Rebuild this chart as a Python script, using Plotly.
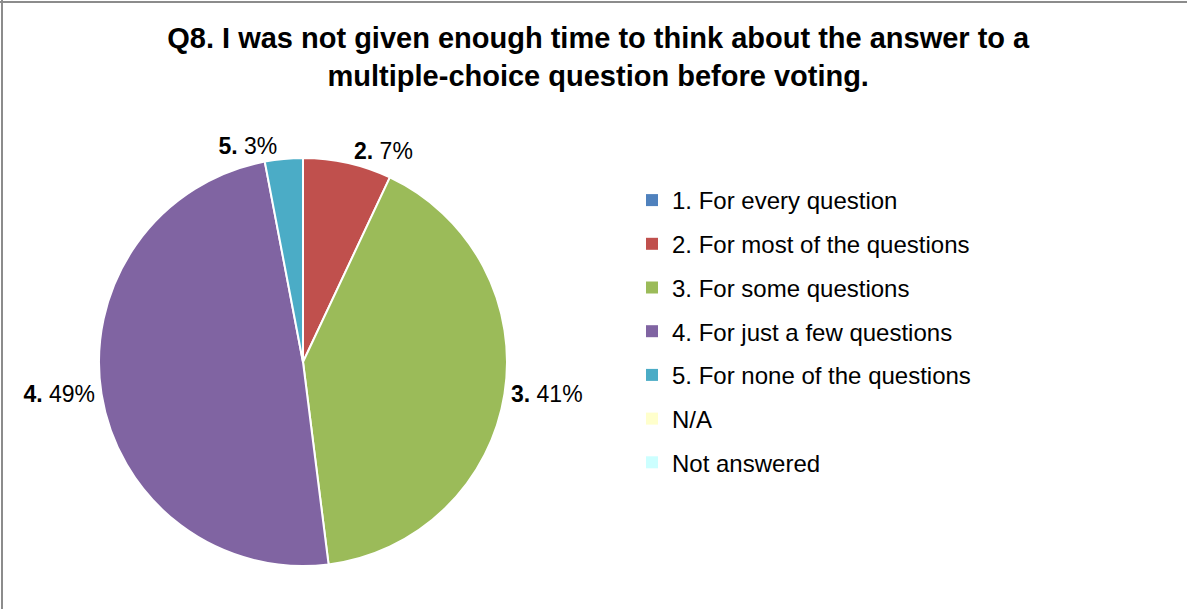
import plotly.graph_objects as go

# ---- data ----
categories = [
    "1. For every question",
    "2. For most of the questions",
    "3. For some questions",
    "4. For just a few questions",
    "5. For none of the questions",
    "N/A",
    "Not answered",
]
short_labels = ["1", "2", "3", "4", "5", "N/A", "NA"]
values = [0, 7, 41, 49, 3, 0, 0]
colors = ["#4F81BD", "#C0504D", "#9BBB59", "#8064A2", "#4BACC6", "#FFFFCC", "#CCFFFF"]

W, H = 1187, 609
FONT = "Liberation Sans, Arial, Helvetica, sans-serif"

texttemplates = [
    ("<b>%{customdata}.</b> %{percent}" if v > 0 else "") for v in values
]

fig = go.Figure()

fig.add_trace(go.Pie(
    labels=categories,
    values=values,
    customdata=short_labels,
    texttemplate=texttemplates,
    textposition="outside",
    textfont=dict(family=FONT, size=23, color="black"),
    marker=dict(colors=colors, line=dict(color="white", width=2)),
    sort=False,
    direction="clockwise",
    rotation=0,
    showlegend=False,
    hoverinfo="label+percent",
    domain=dict(x=[(303 - 204) / W, (303 + 204) / W], y=[1 - 566 / H, 1 - 158 / H]),
))

# legend entries (one per category, so groups can be spaced like the original)
for name, col in zip(categories, colors):
    fig.add_trace(go.Scatter(
        x=[None], y=[None], mode="markers", name=name,
        marker=dict(symbol="square", size=12, color=col),
        legendgroup=name, showlegend=True, hoverinfo="skip",
    ))

fig.update_layout(
    width=W, height=H,
    margin=dict(l=0, r=0, t=0, b=0),
    paper_bgcolor="white",
    plot_bgcolor="white",
    font=dict(family=FONT, color="black"),
    title=dict(
        text="<b>Q8. I was not given enough time to think about the answer to a<br>multiple-choice question before voting.</b>",
        x=0.504, xanchor="center",
        y=1 - 48 / H, yanchor="top", yref="container",
        font=dict(family=FONT, size=29, color="black"),
    ),
    xaxis=dict(visible=False),
    yaxis=dict(visible=False),
    legend=dict(
        x=632 / W, xanchor="left",
        y=1 - 178 / H, yanchor="top",
        font=dict(family=FONT, size=24, color="black"),
        tracegroupgap=9.5,
        bgcolor="rgba(0,0,0,0)",
    ),
    shapes=[
        dict(type="line", xref="paper", yref="paper", x0=2 / W, x1=2 / W, y0=0, y1=1,
             line=dict(color="#8C8C8C", width=2)),
        dict(type="line", xref="paper", yref="paper", x0=0, x1=1, y0=1 - 2 / H, y1=1 - 2 / H,
             line=dict(color="#8C8C8C", width=2)),
    ],
)

fig.write_html(
    "out.html",
    config={"displayModeBar": False},
    post_script="document.body.style.margin='0';document.body.style.overflow='hidden';",
)
